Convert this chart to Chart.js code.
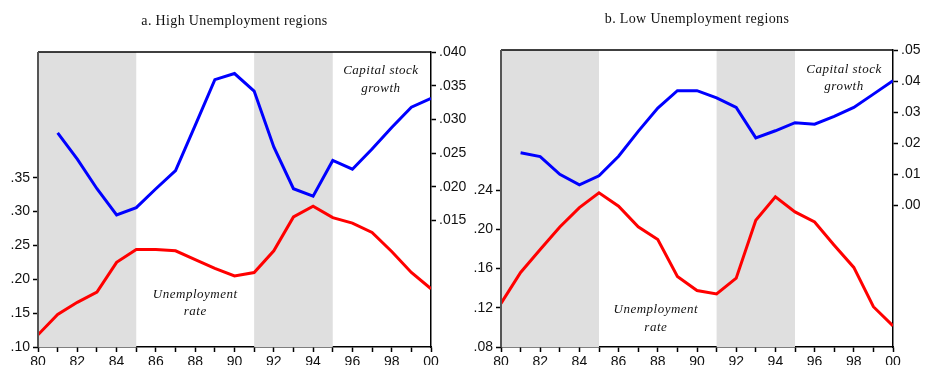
<!DOCTYPE html>
<html>
<head>
<meta charset="utf-8">
<script src="https://cdn.jsdelivr.net/npm/chart.js@4.4.1/dist/chart.umd.min.js"></script>
<style>
  body { margin: 0; background: #fff; width: 925px; height: 365px; overflow: hidden; position: relative; }
  canvas { position: absolute; top: 0; }
  #chartA { left: 0; }
  #chartB { left: 463px; }
</style>
</head>
<body>
<canvas id="chartA" width="470" height="365"></canvas>
<canvas id="chartB" width="462" height="365"></canvas>
<script>
// years 1980..2000 (capital stock growth series starts in 1981)
const years = [1980, 1981, 1982, 1983, 1984, 1985, 1986, 1987, 1988, 1989, 1990,
  1991, 1992, 1993, 1994, 1995, 1996, 1997, 1998, 1999, 2000];
const capYears = years.slice(1);

// a. High Unemployment regions
const highUnemp = [0.118, 0.148, 0.166, 0.181, 0.225, 0.244, 0.244, 0.242, 0.229, 0.216, 0.205,
  0.210, 0.242, 0.292, 0.308, 0.291, 0.283, 0.269, 0.241, 0.210, 0.186];
const highCapital = [0.0280, 0.0241, 0.0197, 0.0158, 0.0169, 0.0197, 0.0224, 0.0291, 0.0359, 0.0368,
  0.0342, 0.0259, 0.0197, 0.0186, 0.0239, 0.0226, 0.0256, 0.0288, 0.0318, 0.0331];

// b. Low Unemployment regions
const lowUnemp = [0.1245, 0.1561, 0.1794, 0.2024, 0.2222, 0.2373, 0.2237, 0.2027, 0.1897, 0.1520, 0.1376,
  0.1342, 0.1502, 0.2093, 0.2332, 0.2178, 0.2075, 0.1839, 0.1612, 0.1211, 0.1016];
const lowCapital = [0.0169, 0.0157, 0.0100, 0.0066, 0.0095, 0.0158, 0.0238, 0.0313, 0.0369, 0.0369,
  0.0346, 0.0315, 0.0217, 0.0240, 0.0266, 0.0261, 0.0286, 0.0315, 0.0358, 0.0401];

// tick labels
const highLeftTicks = [0.10, 0.15, 0.20, 0.25, 0.30, 0.35];
const highRightTicks = [0.015, 0.020, 0.025, 0.030, 0.035, 0.040];
const lowLeftTicks = [0.08, 0.12, 0.16, 0.20, 0.24];
const lowRightTicks = [0.00, 0.01, 0.02, 0.03, 0.04, 0.05];

// shaded periods
const shadedPeriods = [[1980, 1985], [1991, 1995]];

const tickFont = { family: '"Liberation Sans", Arial, sans-serif', size: 14 };
const serif = '"Liberation Serif", "Times New Roman", serif';

const fmt = (v, d) => v.toFixed(d).replace(/^0/, '');

// shading + frame + titles + labels
const decor = {
  id: 'decor',
  beforeDatasetsDraw(chart) {
    const { ctx, chartArea: a, scales: { x } } = chart;
    ctx.save();
    ctx.fillStyle = '#dfdfdf';
    shadedPeriods.forEach(([s, e]) => {
      const x0 = x.getPixelForValue(s), x1 = x.getPixelForValue(e);
      ctx.fillRect(x0, a.top, x1 - x0, a.bottom - a.top);
    });
    ctx.restore();
  },
  afterDraw(chart, args, opts) {
    const { ctx, chartArea: a, scales } = chart;
    ctx.save();
    // frame
    ctx.strokeStyle = '#000';
    ctx.lineWidth = 1.5;
    ctx.beginPath();
    ctx.moveTo(a.left, a.top); ctx.lineTo(a.right, a.top);
    ctx.stroke();
    ctx.strokeStyle = '#555';
    ctx.lineWidth = 2;
    ctx.beginPath();
    ctx.moveTo(a.left, a.top); ctx.lineTo(a.left, a.bottom);
    ctx.stroke();
    // title
    ctx.fillStyle = '#111';
    ctx.textAlign = 'center';
    ctx.textBaseline = 'middle';
    ctx.font = '14px ' + serif;
    ctx.letterSpacing = '0.35px';
    ctx.fillText(opts.title, (a.left + a.right) / 2, a.top - 31);
    // labels
    ctx.font = 'italic 13px ' + serif;
    ctx.letterSpacing = '0.5px';
    opts.notes.forEach(n => {
      const cx = scales.x.getPixelForValue(n.x);
      const cy = scales.yL.getPixelForValue(n.y);
      n.lines.forEach((t, i) => {
        ctx.fillText(t, cx, cy + (i - (n.lines.length - 1) / 2) * 17.5);
      });
    });
    ctx.restore();
  }
};

function makeChart(id, cfg) {
  return new Chart(document.getElementById(id), {
    type: 'line',
    data: {
      datasets: [
        {
          data: capYears.map((y, i) => ({ x: y, y: cfg.capital[i] })),
          yAxisID: 'yR',
          borderColor: '#0000ff',
          borderWidth: 3,
          pointRadius: 0,
          tension: 0
        },
        {
          data: years.map((y, i) => ({ x: y, y: cfg.unemp[i] })),
          yAxisID: 'yL',
          borderColor: '#ff0000',
          borderWidth: 3,
          pointRadius: 0,
          tension: 0
        }
      ]
    },
    options: {
      responsive: false,
      animation: false,
      devicePixelRatio: 1,
      layout: { padding: { top: cfg.top, left: 0, right: 0, bottom: 0 } },
      plugins: {
        legend: { display: false },
        tooltip: { enabled: false },
        decor: { title: cfg.title, notes: cfg.notes }
      },
      scales: {
        x: {
          type: 'linear',
          min: 1980,
          max: 2000,
          afterBuildTicks: s => { s.ticks = years.map(v => ({ value: v })); },
          afterFit: s => { s.height = 18; },
          ticks: {
            autoSkip: false,
            maxRotation: 0,
            padding: 2,
            color: '#111',
            font: tickFont,
            callback: v => (v % 2 === 0 ? String(v).slice(2) : '')
          },
          grid: { drawOnChartArea: false, tickLength: 5, color: '#000', tickWidth: 1.5 },
          border: { color: '#000', width: 1.5 }
        },
        yL: {
          position: 'left',
          min: cfg.leftMin,
          max: cfg.leftMax,
          afterBuildTicks: s => { s.ticks = cfg.leftTicks.map(v => ({ value: v })); },
          afterFit: s => { s.width = cfg.leftW; },
          ticks: { color: '#111', font: tickFont, padding: 3, callback: v => fmt(v, cfg.leftDigits) },
          grid: { drawOnChartArea: false, tickLength: 5, color: '#000', tickWidth: 1.5 },
          border: { display: false }
        },
        yR: {
          position: 'right',
          min: cfg.rightMin,
          max: cfg.rightMax,
          afterBuildTicks: s => { s.ticks = cfg.rightTicks.map(v => ({ value: v })); },
          afterFit: s => { s.width = cfg.rightW; },
          ticks: { color: '#111', font: tickFont, padding: 3, callback: v => fmt(v, cfg.rightDigits) },
          grid: { drawOnChartArea: false, tickLength: 5, color: '#000', tickWidth: 1.5 },
          border: { color: '#000', width: 1.5 }
        }
      }
    },
    plugins: [decor]
  });
}

makeChart('chartA', {
  title: 'a. High Unemployment regions',
  unemp: highUnemp, capital: highCapital,
  leftTicks: highLeftTicks, rightTicks: highRightTicks,
  leftMin: 0.10, leftMax: 0.5355, leftDigits: 2,
  rightMin: -0.0038, rightMax: 0.040, rightDigits: 3,
  leftW: 38, rightW: 39, top: 52,
  notes: [
    { x: 1997.45, y: 0.495, lines: ['Capital stock', 'growth'] },
    { x: 1988, y: 0.1645, lines: ['Unemployment', 'rate'] }
  ]
});

makeChart('chartB', {
  title: 'b. Low Unemployment regions',
  unemp: lowUnemp, capital: lowCapital,
  leftTicks: lowLeftTicks, rightTicks: lowRightTicks,
  leftMin: 0.08, leftMax: 0.383, leftDigits: 2,
  rightMin: -0.0456, rightMax: 0.05, rightDigits: 2,
  leftW: 38, rightW: 32, top: 50,
  notes: [
    { x: 1997.5, y: 0.3546, lines: ['Capital stock', 'growth'] },
    { x: 1987.9, y: 0.1088, lines: ['Unemployment', 'rate'] }
  ]
});
</script>
</body>
</html>
